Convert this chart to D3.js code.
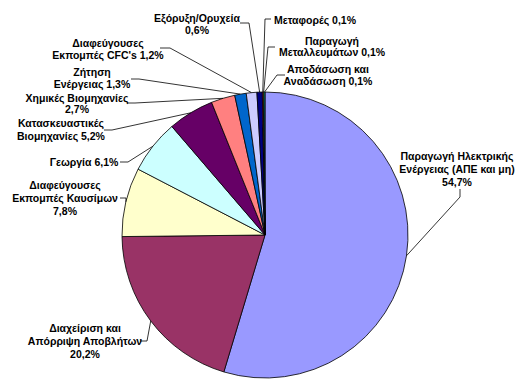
<!DOCTYPE html>
<html><head><meta charset="utf-8">
<script src="https://cdn.jsdelivr.net/npm/d3@7/dist/d3.min.js"></script>
<style>
html,body{margin:0;padding:0;background:#fff;}
svg{display:block;}
text{font-family:"Liberation Sans",Arial,sans-serif;font-weight:bold;font-size:10.5px;fill:#000;}
</style></head>
<body>
<svg id="chart" width="520" height="382"></svg>
<script>
// ---- data ----
const categories = [
  "Παραγωγή Ηλεκτρικής Ενέργειας (ΑΠΕ και μη)",
  "Διαχείριση και Απόρριψη Αποβλήτων",
  "Διαφεύγουσες Εκπομπές Καυσίμων",
  "Γεωργία",
  "Κατασκευαστικές Βιομηχανίες",
  "Χημικές Βιομηχανίες",
  "Ζήτηση Ενέργειας",
  "Διαφεύγουσες Εκπομπές CFC's",
  "Εξόρυξη/Ορυχεία",
  "Μεταφορές",
  "Παραγωγή Μεταλλευμάτων",
  "Αποδάσωση και Αναδάσωση"
];
const values = [54.7, 20.2, 7.8, 6.1, 5.2, 2.7, 1.3, 1.2, 0.6, 0.1, 0.1, 0.1];
const colors = ["#9999FF","#993366","#FFFFCC","#CCFFFF","#660066","#FF8080",
                "#0066CC","#CCCCFF","#000080","#FF00FF","#FFFF00","#00FFFF"];

// label text lines ({v} = formatted value)
const labelLines = [
  ["Παραγωγή Ηλεκτρικής","Ενέργειας (ΑΠΕ και μη)","{v}"],
  ["Διαχείριση και","Απόρριψη Αποβλήτων","{v}"],
  ["Διαφεύγουσες","Εκπομπές Καυσίμων","{v}"],
  ["Γεωργία {v}"],
  ["Κατασκευαστικές","Βιομηχανίες {v}"],
  ["Χημικές Βιομηχανίες","{v}"],
  ["Ζήτηση","Ενέργειας {v}"],
  ["Διαφεύγουσες","Εκπομπές CFC's {v}"],
  ["Εξόρυξη/Ορυχεία","{v}"],
  ["Μεταφορές {v}"],
  ["Παραγωγή","Μεταλλευμάτων {v}"],
  ["Αποδάσωση και","Αναδάσωση {v}"]
];

// ---- layout (label placement) ----
// [centerX, firstLineY, lineStep, anchorX, anchorY, elbowX, elbowY]
const labelLayout = [
  [457,156,13, 460,189, 460,197],
  [85,328,13, 140,341, 147,341],
  [65,185,13, 120,198, 126,198],
  [84,162,13, 120,162, 128,162],
  [61,123,13, 104,130, 112,130],
  [77,98,11.5, 127,103, 135,103],
  [92,72,12, 131,79, 139,79],
  [108,43,12, 160,48, 170,48],
  [197,18,12, 240,23, 249,23],
  [315,20,12, 271,19, 265,19],
  [332,41,11.5, 275,47, 268,47],
  [328,69,12, 285,75, 277,75]
];

const cx = 265, cy = 235, R = 143;
const svg = d3.select("#chart");
const g = svg.append("g").attr("transform", `translate(${cx},${cy})`);

const pie = d3.pie().sort(null).value(d => d).startAngle(0).endAngle(2*Math.PI);
const arcs = pie(values);
const arc = d3.arc().innerRadius(0).outerRadius(R);
const color = d3.scaleOrdinal().domain(d3.range(values.length)).range(colors);

g.selectAll("path.slice").data(arcs).enter().append("path")
  .attr("class","slice")
  .attr("d", arc)
  .attr("fill", (d,i) => color(i))
  .attr("stroke", "#000")
  .attr("stroke-width", 0.8);

const fmt = v => d3.format(".1f")(v).replace(".", ",") + "%";

// leader lines
const edge = d => {
  const a = (d.startAngle + d.endAngle) / 2;
  return [cx + R * Math.sin(a), cy - R * Math.cos(a)];
};
svg.append("g").selectAll("path.leader").data(arcs).enter().append("path")
  .attr("class","leader")
  .attr("fill","none")
  .attr("stroke","#000")
  .attr("stroke-width",0.8)
  .attr("d", (d,i) => {
    const L = labelLayout[i];
    const e = edge(d);
    return d3.line()([[L[3],L[4]],[L[5],L[6]],e]);
  });

// labels
const lg = svg.append("g");
arcs.forEach((d,i) => {
  const L = labelLayout[i];
  const t = lg.append("text").attr("text-anchor","middle");
  labelLines[i].forEach((ln,k) => {
    t.append("tspan")
      .attr("x", L[0])
      .attr("y", L[1] + k*L[2])
      .attr("dy","0.35em")
      .text(ln.replace("{v}", fmt(values[i])));
  });
});
</script>
</body></html>
